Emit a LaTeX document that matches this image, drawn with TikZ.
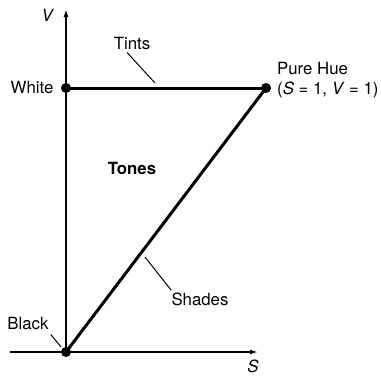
\documentclass[tikz,border=0pt]{standalone}
\usepackage{fontspec}
\setmainfont{TeX Gyre Heros}
\usetikzlibrary{arrows.meta, positioning}

\begin{document}
\begin{tikzpicture}[x=1pt, y=-1pt, every node/.style={font=\fontsize{16.8}{20}\selectfont, inner sep=0pt},
		axis/.style={line width=1.7pt, -{Latex[length=8pt, width=5pt]}},
		edge/.style={line width=3pt},
		leader/.style={line width=1pt},
		vertex/.style={circle, fill=black, minimum size=10pt}]
			\useasboundingbox (0,0) rectangle (381,376);
			
			% Corners of the triangle
			\node[vertex] (black) at (66,352) {};
			\node[vertex] (white) at (66,88) {};
			\node[vertex] (hue) at (266,88) {};
			
			% Axes
			\coordinate (sStart) at (10,352);
			\coordinate (sEnd) at (258,352);
			\coordinate (vEnd) at (66,9);
			\draw[axis] (sStart) -- (sEnd);
			\draw[axis] (black.center) -- (vEnd);
			\node (sLbl) at (253,366) {\textit{S}};
			\node (vLbl) at (48,15) {\textit{V}};
			
			% Edges
			\draw[edge] (white.center) -- (hue.center);
			\draw[edge] (black.center) -- (hue.center);
			
			% Corner labels
			\node (whiteLbl) at (32,87) {White};
			\node (blackLbl) at (28,323) {Black};
			\node[anchor=west, align=left] (hueLbl) at (277,80) {Pure Hue\\(\textit{S} = 1, \textit{V} = 1)};
			\node[font=\fontsize{16.8}{20}\selectfont\bfseries] (tones) at (132,168) {Tones};
			
			% Leader labels
			\node (tints) at (132,43) {Tints};
			\node (shades) at (200,299) {Shades};
			\coordinate (tintsTip) at (155,83);
			\coordinate (shadesTip) at (145,257);
			\coordinate (blackTip) at (61,347);
			\draw[leader] ([shift={(-5,3)}]tints.south) -- (tintsTip);
			\draw[leader] ([shift={(0,-2)}]shades.north west) -- (shadesTip);
			\draw[leader] ([shift={(2,5)}]blackLbl.south east) -- (blackTip);
		\end{tikzpicture}
\end{document}
